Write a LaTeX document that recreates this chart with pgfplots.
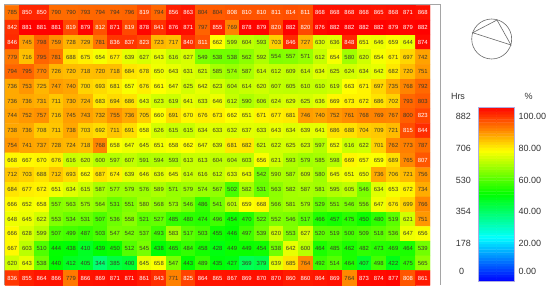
\documentclass[border=0pt]{standalone}
\usepackage{pgfplots}
\usepackage{pgfplotstable}
\usepackage{fontspec}
\setmainfont{Liberation Sans}
\pgfplotsset{compat=1.18}
\definecolor{cellink}{RGB}{62,58,40}
\definecolor{framegray}{RGB}{165,165,165}
\definecolor{iconink}{RGB}{105,105,105}
\definecolor{barline}{RGB}{175,175,225}
\definecolor{legendink}{RGB}{50,50,50}
\pgfplotsset{hrsmap/.style={colormap={hrs}{rgb255(0cm)=(0,0,255); rgb255(1cm)=(0,255,255); rgb255(2cm)=(0,255,0); rgb255(3cm)=(255,255,0); rgb255(4cm)=(255,0,0)},
  point meta min=0,point meta max=882}}
\pgfplotstableread[row sep=\\]{
v\\
785\\850\\850\\790\\790\\793\\794\\794\\796\\819\\794\\856\\863\\804\\804\\808\\810\\810\\811\\814\\811\\868\\868\\868\\868\\865\\868\\871\\868\\
842\\881\\881\\881\\819\\879\\812\\871\\819\\878\\841\\876\\871\\797\\855\\769\\878\\879\\820\\882\\820\\876\\882\\882\\882\\882\\879\\879\\882\\
846\\745\\798\\759\\728\\729\\781\\836\\837\\823\\723\\717\\840\\811\\662\\599\\604\\593\\703\\846\\727\\630\\636\\848\\651\\646\\659\\644\\874\\
779\\716\\795\\781\\688\\675\\654\\677\\639\\627\\643\\616\\627\\549\\538\\538\\562\\592\\554\\557\\571\\612\\654\\580\\620\\654\\671\\697\\742\\
794\\795\\770\\726\\720\\718\\720\\718\\684\\678\\650\\643\\631\\621\\585\\574\\587\\614\\612\\609\\614\\634\\625\\624\\634\\642\\682\\720\\751\\
736\\753\\725\\747\\740\\700\\693\\681\\657\\676\\661\\647\\625\\642\\623\\604\\614\\620\\607\\605\\610\\610\\619\\663\\671\\697\\735\\768\\792\\
736\\736\\731\\711\\730\\724\\683\\694\\686\\643\\623\\619\\641\\633\\646\\612\\590\\606\\624\\629\\625\\636\\669\\673\\672\\686\\702\\793\\803\\
744\\752\\757\\716\\745\\743\\732\\755\\736\\705\\660\\691\\670\\676\\673\\662\\651\\671\\677\\681\\746\\740\\752\\761\\768\\769\\767\\800\\823\\
738\\736\\708\\711\\738\\703\\692\\711\\691\\658\\626\\615\\615\\634\\633\\632\\637\\633\\643\\634\\639\\641\\686\\688\\704\\709\\721\\815\\844\\
754\\741\\737\\728\\724\\718\\768\\658\\647\\645\\651\\658\\662\\647\\639\\681\\682\\621\\622\\625\\623\\597\\652\\616\\622\\701\\762\\773\\787\\
668\\667\\670\\676\\616\\620\\600\\597\\607\\591\\594\\593\\613\\613\\604\\604\\603\\656\\621\\593\\579\\585\\598\\669\\657\\659\\689\\765\\807\\
712\\703\\688\\712\\693\\662\\687\\674\\639\\646\\636\\645\\614\\616\\612\\633\\643\\542\\590\\587\\609\\580\\645\\651\\650\\736\\706\\721\\756\\
684\\677\\672\\651\\634\\615\\587\\577\\579\\576\\589\\571\\579\\574\\567\\502\\582\\531\\563\\582\\587\\581\\595\\605\\546\\634\\653\\672\\734\\
666\\652\\658\\557\\563\\575\\564\\531\\551\\580\\568\\573\\546\\486\\541\\601\\659\\668\\566\\581\\579\\529\\551\\546\\556\\647\\676\\699\\766\\
648\\645\\622\\553\\534\\531\\507\\536\\558\\521\\527\\485\\480\\474\\496\\454\\470\\522\\552\\546\\517\\466\\457\\475\\450\\480\\519\\621\\751\\
666\\628\\599\\507\\499\\487\\503\\547\\542\\537\\493\\583\\517\\503\\455\\446\\497\\539\\620\\553\\627\\520\\519\\500\\509\\518\\536\\647\\656\\
667\\603\\510\\444\\438\\410\\439\\450\\512\\545\\438\\465\\484\\458\\428\\449\\449\\454\\538\\642\\600\\464\\485\\462\\482\\473\\469\\464\\539\\
620\\643\\538\\440\\412\\405\\344\\385\\400\\645\\658\\547\\443\\489\\435\\427\\369\\379\\639\\685\\764\\492\\514\\464\\407\\498\\422\\475\\565\\
836\\855\\864\\866\\779\\866\\869\\871\\871\\861\\843\\771\\825\\864\\865\\867\\869\\870\\870\\860\\860\\864\\869\\764\\873\\874\\877\\808\\861\\
}\grid
\pgfplotstablecreatecol[expr={mod(\pgfplotstablerow,29)}]{cx}{\grid}
\pgfplotstablecreatecol[expr={18-(\pgfplotstablerow-mod(\pgfplotstablerow,29))/29}]{cy}{\grid}
\pgfplotstableread[row sep=\\]{
bx by\\
0 0\\1 0\\0 14\\1 14\\0 28\\1 28\\0 42\\1 42\\0 56\\1 56\\0 70\\1 70\\0 84\\1 84\\0 98\\1 98\\
0 112\\1 112\\0 126\\1 126\\0 140\\1 140\\0 154\\1 154\\0 168\\1 168\\0 182\\1 182\\0 196\\1 196\\0 210\\1 210\\
0 224\\1 224\\0 238\\1 238\\0 252\\1 252\\0 266\\1 266\\0 280\\1 280\\0 294\\1 294\\0 308\\1 308\\0 322\\1 322\\
0 336\\1 336\\0 350\\1 350\\0 364\\1 364\\0 378\\1 378\\0 392\\1 392\\0 406\\1 406\\0 420\\1 420\\0 434\\1 434\\
0 448\\1 448\\0 462\\1 462\\0 476\\1 476\\0 490\\1 490\\0 504\\1 504\\0 518\\1 518\\0 532\\1 532\\0 546\\1 546\\
0 560\\1 560\\0 574\\1 574\\0 588\\1 588\\0 602\\1 602\\0 616\\1 616\\0 630\\1 630\\0 644\\1 644\\0 658\\1 658\\
0 672\\1 672\\0 686\\1 686\\0 700\\1 700\\0 714\\1 714\\0 728\\1 728\\0 742\\1 742\\0 756\\1 756\\0 770\\1 770\\
0 784\\1 784\\0 798\\1 798\\0 812\\1 812\\0 826\\1 826\\0 840\\1 840\\0 854\\1 854\\0 868\\1 868\\0 882\\1 882\\
}\barscale
\begin{document}
\begin{tikzpicture}[x=1pt,y=1pt]
\path[use as bounding box] (0,0) rectangle (550,292);
\draw[framegray,line width=1.2pt] (4.5,7) -- (4.5,287.5) -- (440.5,287.5) -- (440.5,7);
\begin{axis}[
  at={(5pt,6.6pt)},anchor=south west,
  scale only axis,width=425pt,height=280pt,
  xmin=-0.5,xmax=28.5,ymin=-0.5,ymax=18.5,
  axis lines=none,
  clip=false,
  hrsmap,
  /pgf/number format/assume math mode=true,
]
\addplot[matrix plot*,mesh/cols=29,point meta=\thisrow{v}]
  table[x=cx,y=cy]{\grid};
\addplot[draw=none,forget plot,point meta=\thisrow{v},
  restrict expr to domain={\thisrow{v}}{805:900},
  nodes near coords,
  every node near coord/.style={anchor=center,inner sep=0pt,font=\fontsize{5.9}{6}\selectfont,text=white}]
  table[x=cx,y=cy]{\grid};
\addplot[draw=none,forget plot,point meta=\thisrow{v},
  restrict expr to domain={\thisrow{v}}{0:804},
  nodes near coords,
  every node near coord/.style={anchor=center,inner sep=0pt,font=\fontsize{5.9}{6}\selectfont,text=cellink}]
  table[x=cx,y=cy]{\grid};
\end{axis}
% colour scale
\begin{axis}[
  at={(478.3pt,10.7pt)},anchor=south west,
  scale only axis,width=36pt,height=174pt,
  xmin=0,xmax=1,ymin=0,ymax=882,
  hrsmap,
  y dir=normal,
  axis line style={barline,line width=0.5pt},
  xtick=\empty,
  ytick={834,674,513,353,193,49},
  yticklabels={100.00,80.00,60.00,40.00,20.00,0.00},
  yticklabel pos=right,
  major tick length=0pt,
  yticklabel style={font=\fontsize{9}{10}\selectfont,text=legendink,anchor=west,xshift=4pt,inner sep=0pt},
  /pgf/number format/assume math mode=true,
  axis on top,
]
\addplot[matrix plot*,mesh/cols=2,point meta=y]
  table[x=bx,y=by]{\barscale};
\end{axis}
% orientation icon
\draw[iconink,line width=0.6pt] (491.7,253) circle (20);
\draw[iconink,line width=0.6pt] (472.7,259.3) -- (497,272) -- (511,247) -- cycle;
% legend captions
\begin{scope}[every node/.style={font=\fontsize{9}{10}\selectfont,text=legendink,inner sep=0pt}]
\node at (458,196) {Hrs};
\node at (528.7,196) {\%};
\node at (463.3,175.3) {882};
\node at (463.3,143.7) {706};
\node at (463.3,112) {530};
\node at (463.3,80.3) {354};
\node at (463.3,48.7) {178};
\node at (461.7,20.3) {0};
\end{scope}
\end{tikzpicture}
\end{document}
